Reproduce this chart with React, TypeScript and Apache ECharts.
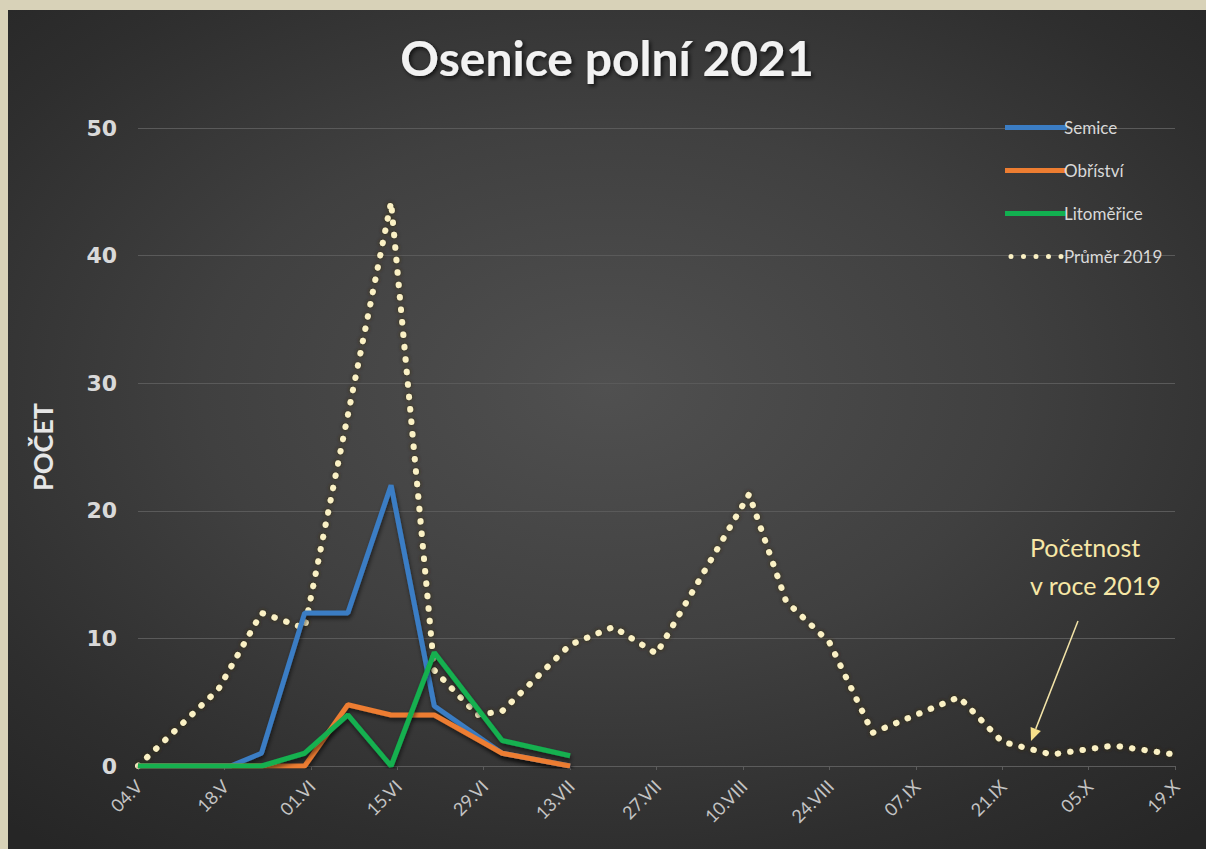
import React, { useEffect, useRef } from "react";
import * as echarts from "echarts";

// ---- data ----
const xTickLabels = ["04.V", "18.V", "01.VI", "15.VI", "29.VI", "13.VII", "27.VII", "10.VIII", "24.VIII", "07.IX", "21.IX", "05.X", "19.X"];

const dates2021 = ["04.V", "11.V", "19.V", "24.V", "31.V", "07.VI", "14.VI", "21.VI", "02.VII", "13.VII"];
const semice = [0, 0, 0, 1, 12, 12, 22, 4.7, 1, 0];
const obristvi = [0, 0, 0, 0, 0, 4.8, 4, 4, 1, 0];
const litomerice = [0, 0, 0, 0, 1, 4, 0, 8.9, 2, 0.8];

const dates2019 = ["04.V", "17.V", "24.V", "31.V", "14.VI", "21.VI", "28.VI", "02.VII", "13.VII", "20.VII", "27.VII", "11.VIII", "17.VIII", "24.VIII", "31.VIII", "14.IX", "21.IX", "29.IX", "09.X", "19.X"];
const prumer2019 = [0, 6, 12, 10.8, 44.2, 7.5, 4.0, 4.3, 9.5, 10.9, 8.8, 21.3, 12.9, 9.7, 2.6, 5.4, 1.9, 0.9, 1.6, 0.9];

const seriesNames = ["Semice", "Obříství", "Litoměřice", "Průměr 2019"];
const seriesColors = ["#3b7dc4", "#ed7d31", "#12b050", "#fbf1c4"];
const annotationLines = ["Početnost", "v roce 2019"];

// ---- helpers ----
const ROMAN: Record<string, number> = { V: 5, VI: 6, VII: 7, VIII: 8, IX: 9, X: 10 };
const START = Date.UTC(2021, 4, 4);
const TICK_DAYS = 14;
function dayOffset(s: string): number {
  const [d, m] = s.split(".");
  return Math.round((Date.UTC(2021, ROMAN[m] - 1, parseInt(d, 10)) - START) / 86400000);
}
function pairs(dates: string[], vals: number[]) {
  return dates.map((d, i) => [dayOffset(d), vals[i]]);
}
function dotsIcon(n: number, spacing: number, r: number) {
  let p = "path://";
  for (let i = 0; i < n; i++) {
    const cx = r + i * spacing;
    p += `M${cx - r},${r}a${r},${r} 0 1,0 ${2 * r},0a${r},${r} 0 1,0 ${-2 * r},0Z`;
  }
  return p;
}

const OFFX = 8;
const OFFY = 10;

export default function App() {
  const ref = useRef<HTMLDivElement>(null);
  useEffect(() => {
    if (!ref.current) return;
    const chart = echarts.init(ref.current, null, { renderer: "svg" });
    const lineShadow = { shadowColor: "rgba(0,0,0,0.55)", shadowBlur: 4, shadowOffsetX: 1, shadowOffsetY: 3 };

    chart.setOption({
      animation: false,
      backgroundColor: "transparent",
      title: {
        text: "Osenice polní 2021",
        left: "center",
        top: 18,
        textStyle: {
          fontFamily: "Lato",
          fontWeight: "bold",
          fontSize: 48,
          color: "#f2f2f2",
          textShadowColor: "rgba(0,0,0,0.7)",
          textShadowBlur: 4,
          textShadowOffsetX: 2,
          textShadowOffsetY: 2,
        },
      },
      legend: {
        orient: "vertical",
        left: 1000 - OFFX,
        top: 114 - OFFY,
        itemWidth: 62,
        itemHeight: 5,
        itemGap: 26,
        data: seriesNames.map((n, i) => ({
          name: n,
          icon: i === 3 ? dotsIcon(5, 12.5, 2.5) : "rect",
          itemStyle: { color: seriesColors[i] },
        })),
        textStyle: { color: "#d9d9d9", fontSize: 17, fontFamily: "Lato", padding: [0, 0, 0, -8] },
      },
      grid: { left: 138 - OFFX, top: 128 - OFFY, width: 1037, height: 638 },
      xAxis: {
        type: "value",
        min: 0,
        max: 168,
        interval: TICK_DAYS,
        axisLine: { show: true, lineStyle: { color: "#5c5c5c", width: 1 } },
        axisTick: { show: true, length: 4, lineStyle: { color: "#5c5c5c" } },
        splitLine: { show: false },
        axisLabel: { show: false },
      },
      yAxis: {
        type: "value",
        min: 0,
        max: 50,
        interval: 10,
        name: "POČET",
        nameLocation: "middle",
        nameRotate: 90,
        nameGap: 82,
        nameTextStyle: { color: "#e6e6e6", fontSize: 27, fontWeight: "bold", fontFamily: "Lato" },
        axisLine: { show: false },
        axisTick: { show: false },
        splitLine: { lineStyle: { color: "#5a5a5a", width: 1 } },
        axisLabel: { color: "#d9d9d9", fontSize: 22, fontWeight: "bold", fontFamily: "DejaVu Sans", margin: 21 },
      },
      series: [
        {
          name: seriesNames[0],
          type: "line",
          data: pairs(dates2021, semice),
          symbol: "none",
          lineStyle: { color: seriesColors[0], width: 5, ...lineShadow },
          itemStyle: { color: seriesColors[0] },
          z: 3,
        },
        {
          name: seriesNames[1],
          type: "line",
          data: pairs(dates2021, obristvi),
          symbol: "none",
          lineStyle: { color: seriesColors[1], width: 5, ...lineShadow },
          itemStyle: { color: seriesColors[1] },
          z: 4,
        },
        {
          name: seriesNames[2],
          type: "line",
          data: pairs(dates2021, litomerice),
          symbol: "none",
          lineStyle: { color: seriesColors[2], width: 5, ...lineShadow },
          itemStyle: { color: seriesColors[2] },
          z: 5,
        },
        {
          name: seriesNames[3],
          type: "line",
          data: pairs(dates2019, prumer2019),
          symbol: "none",
          lineStyle: {
            color: seriesColors[3],
            width: 6,
            type: [0.5, 12],
            cap: "round",
            shadowColor: "rgba(50,38,0,0.95)",
            shadowBlur: 4,
          },
          itemStyle: { color: seriesColors[3] },
          z: 2,
        },
      ],
    });

    // rotated x tick labels placed via the axis scale
    const y0 = chart.convertToPixel({ yAxisIndex: 0 }, 0) as number;
    const tickLabels = xTickLabels.map((lab, i) => {
      const x = chart.convertToPixel({ xAxisIndex: 0 }, i * TICK_DAYS) as number;
      return {
        type: "text",
        x: x + 1,
        y: y0 + 17,
        rotation: Math.PI / 4,
        style: {
          text: lab,
          fill: "#c4c4c4",
          fontSize: 18,
          fontFamily: "Lato",
          align: "right",
          verticalAlign: "middle",
        },
      };
    });

    // arrow geometry (page coords)
    const ax0 = 1078, ay0 = 621, tipX = 1031, tipY = 741;
    const vx = tipX - ax0, vy = tipY - ay0;
    const len = Math.sqrt(vx * vx + vy * vy);
    const ux = vx / len, uy = vy / len;
    const headL = 13, headW = 5.5;
    const bx = tipX - ux * headL, by = tipY - uy * headL;
    const px = -uy, py = ux;

    chart.setOption({
      graphic: [
        ...tickLabels,
        {
          type: "text",
          left: 1030 - OFFX,
          top: 528 - OFFY,
          style: {
            text: annotationLines.join("\n"),
            fill: "#f7e7a6",
            fontSize: 25,
            lineHeight: 38,
            fontFamily: "Lato",
          },
        },
        {
          type: "line",
          shape: { x1: ax0 - OFFX, y1: ay0 - OFFY, x2: bx - OFFX, y2: by - OFFY },
          style: { stroke: "#f3e4a8", lineWidth: 1.5 },
        },
        {
          type: "polygon",
          shape: {
            points: [
              [tipX - OFFX, tipY - OFFY],
              [bx + px * headW - OFFX, by + py * headW - OFFY],
              [bx - px * headW - OFFX, by - py * headW - OFFY],
            ],
          },
          style: { fill: "#f7e08a" },
        },
      ],
    });
    return () => chart.dispose();
  }, []);

  return (
    <div style={{ position: "fixed", left: 0, top: 0, width: 1206, height: 849, background: "#d8d2b8", overflow: "hidden" }}>
      <div
        style={{
          position: "absolute",
          left: OFFX,
          top: OFFY,
          width: 1206 - OFFX,
          height: 849 - OFFY,
          background: "radial-gradient(ellipse 75% 70% at 50% 45%, #505050 0%, #404040 45%, #2e2e2e 80%, #262626 100%)",
        }}
      >
        <div ref={ref} style={{ width: "100%", height: "100%" }} />
      </div>
    </div>
  );
}
